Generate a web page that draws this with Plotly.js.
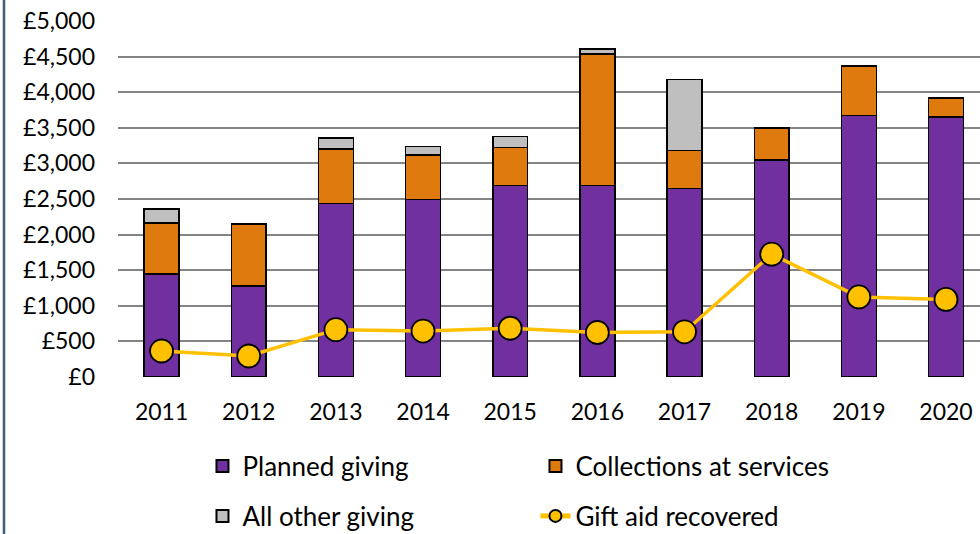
<!DOCTYPE html>
<html>
<head>
<meta charset="utf-8">
<script src="https://cdn.plot.ly/plotly-3.0.1.min.js"></script>
<style>
  html, body { margin: 0; padding: 0; background: #fff; }
  #wrap { position: relative; width: 980px; height: 534px; overflow: hidden; }
  #chart { width: 980px; height: 534px; }
  #edge { position: absolute; left: 3px; top: 0; width: 2px; height: 534px; background: #4f5b66; box-shadow: 1px 0 1px #b9d3e3, -1px 0 1px #b9d3e3; }
</style>
</head>
<body>
<div id="wrap"><div id="chart"></div><div id="edge"></div></div>
<script>
const years = ['2011','2012','2013','2014','2015','2016','2017','2018','2019','2020'];
const plannedGiving = [1450, 1280, 2440, 2490, 2690, 2690, 2645, 3045, 3675, 3655];
const collections   = [715, 865, 760, 630, 530, 1850, 535, 445, 685, 260];
const otherGiving   = [195, 12, 155, 120, 155, 65, 995, 12, 12, 5];
const giftAid       = [365, 295, 665, 645, 685, 625, 635, 1725, 1125, 1090];
const yTickVals = [0, 500, 1000, 1500, 2000, 2500, 3000, 3500, 4000, 4500, 5000];
const yTickText = ['£0','£500','£1,000','£1,500','£2,000','£2,500','£3,000','£3,500','£4,000','£4,500','£5,000'];

const FONT = 'Lato, "Open Sans", sans-serif';
const outline = { color: '#000000', width: 1.5 };

const traces = [
  { type: 'bar', name: 'Planned giving', x: years, y: plannedGiving, width: 0.4,
    marker: { color: '#7030A0', line: outline }, legend: 'legend' },
  { type: 'bar', name: 'Collections at services', x: years, y: collections, width: 0.4,
    marker: { color: '#DF7A0E', line: outline }, legend: 'legend' },
  { type: 'bar', name: 'All other giving', x: years, y: otherGiving, width: 0.4,
    marker: { color: '#BFBFBF', line: outline }, legend: 'legend2' },
  { type: 'scatter', mode: 'lines+markers', name: 'Gift aid recovered', x: years, y: giftAid,
    line: { color: '#FFC000', width: 3.5 },
    marker: { symbol: 'circle', size: 23, color: '#FFC000', line: { color: '#000', width: 1.8 } },
    legend: 'legend2' }
];

const legendCommon = {
  orientation: 'h', xanchor: 'left', yanchor: 'middle', yref: 'container',
  entrywidth: 288, entrywidthmode: 'pixels', itemsizing: 'constant',
  font: { family: FONT, size: 26, color: '#000' }, bgcolor: 'rgba(0,0,0,0)',
  traceorder: 'normal'
};

const layout = {
  width: 980, height: 534,
  margin: { l: 118, r: 0, t: 21, b: 157 },
  paper_bgcolor: '#fff', plot_bgcolor: '#fff',
  barmode: 'stack',
  showlegend: true,
  font: { family: FONT, size: 23, color: '#000' },
  xaxis: {
    type: 'category', range: [-0.5, 9.39], showgrid: false, zeroline: false, showline: false,
    ticks: '', ticklabelstandoff: 19, tickfont: { family: FONT, size: 23, color: '#000' }, fixedrange: true
  },
  yaxis: {
    range: [0, 5000], tickvals: yTickVals, ticktext: yTickText, showgrid: true,
    gridcolor: '#848484', gridwidth: 2, zeroline: false, showline: false, ticks: '',
    ticklabelstandoff: 22, tickfont: { family: FONT, size: 23, color: '#000' }, fixedrange: true
  },
  legend: Object.assign({}, legendCommon, { x: 0.098, y: 1 - 466 / 534 }),
  legend2: Object.assign({}, legendCommon, { x: 0.098, y: 1 - 516 / 534 })
};

Plotly.newPlot('chart', traces, layout, { displayModeBar: false, staticPlot: true });
</script>
</body>
</html>
